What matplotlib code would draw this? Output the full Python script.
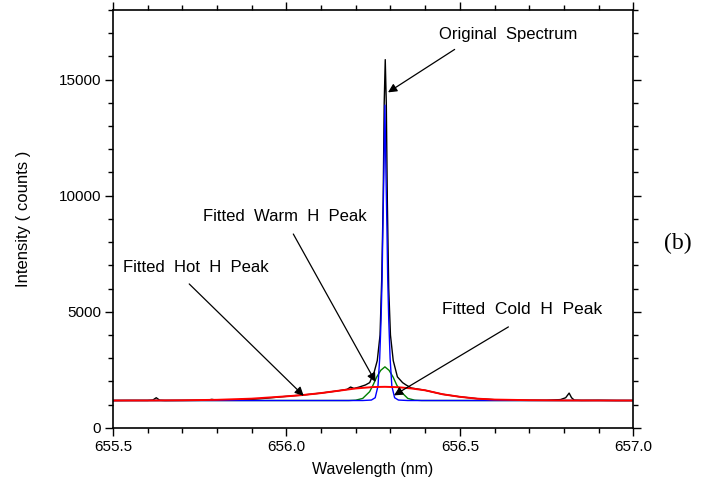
import numpy as np
import matplotlib
matplotlib.use("Agg")
import matplotlib.pyplot as plt
from matplotlib.ticker import MultipleLocator

plt.rcParams['font.family'] = ['Liberation Sans', 'DejaVu Sans']

orig_wl = [655.50, 655.55, 655.60, 655.615, 655.625, 655.635, 655.65, 655.70,
           655.77, 655.785, 655.80, 655.86, 655.875, 655.89, 655.95, 656.00,
           656.05, 656.10, 656.15, 656.175, 656.185, 656.195, 656.21, 656.228,
           656.24, 656.253, 656.262, 656.270, 656.275, 656.279, 656.282, 656.285,
           656.288, 656.291, 656.295, 656.300, 656.308, 656.32, 656.335, 656.345,
           656.36, 656.40, 656.45, 656.50, 656.55, 656.60, 656.65, 656.70,
           656.75, 656.79, 656.805, 656.815, 656.822, 656.83, 656.85, 656.90,
           656.95, 657.00]
orig_int = [1180, 1185, 1185, 1200, 1300, 1190, 1180, 1185,
            1190, 1230, 1195, 1210, 1240, 1215, 1290, 1360,
            1420, 1500, 1600, 1660, 1760, 1700, 1760, 1850,
            1950, 2400, 2900, 4000, 6500, 9800, 14000, 15860,
            14000, 9800, 6000, 4000, 2900, 2200, 1950, 1850,
            1720, 1620, 1450, 1340, 1260, 1215, 1200, 1190,
            1190, 1220, 1300, 1500, 1300, 1195, 1185, 1190,
            1180, 1180]

# fitted cold peak (blue)
cold_wl = [655.50, 656.22, 656.245, 656.256, 656.264, 656.269, 656.273, 656.276,
           656.278, 656.281, 656.284, 656.287, 656.290, 656.292, 656.295, 656.299,
           656.304, 656.312, 656.323, 656.35, 657.00]
cold_int = [1180, 1180, 1200, 1300, 1800, 3000, 4700, 6500,
            8500, 11000, 13900, 11000, 8500, 6500, 4700, 3000,
            1800, 1300, 1200, 1180, 1180]

# fitted warm peak (green)
warm_wl = [655.50, 656.18, 656.20, 656.22, 656.24, 656.25, 656.26, 656.272,
           656.284, 656.296, 656.308, 656.318, 656.33, 656.35, 656.37, 656.39,
           657.00]
warm_int = [1180, 1180, 1195, 1270, 1560, 1850, 2180, 2480,
            2630, 2480, 2180, 1850, 1560, 1270, 1195, 1180,
            1180]

# fitted hot peak (red)
hot_wl = [655.50, 655.60, 655.70, 655.80, 655.90, 656.00, 656.05, 656.10,
          656.15, 656.20, 656.25, 656.284, 656.32, 656.36, 656.40, 656.45,
          656.50, 656.55, 656.60, 656.70, 656.80, 656.90, 657.00]
hot_int = [1180, 1182, 1190, 1210, 1260, 1360, 1420, 1500,
           1600, 1700, 1760, 1770, 1755, 1700, 1620, 1450,
           1340, 1260, 1220, 1195, 1185, 1182, 1180]

fig = plt.figure(figsize=(7.10, 4.97), dpi=100)
ax = fig.add_axes([0.159, 0.139, 0.733, 0.841])

ax.plot(orig_wl, orig_int, color='black', lw=1.0)
ax.plot(warm_wl, warm_int, color='#008000', lw=1.0)
ax.plot(cold_wl, cold_int, color='#0000ff', lw=1.0)
ax.plot(hot_wl, hot_int, color='#ff0000', lw=1.4)

ax.set_xlim(655.5, 657.0)
ax.set_ylim(0, 18000)
ax.set_xticks([655.5, 656.0, 656.5, 657.0])
ax.set_xticklabels(['655.5', '656.0', '656.5', '657.0'])
ax.set_yticks([0, 5000, 10000, 15000])
ax.xaxis.set_minor_locator(MultipleLocator(0.1))
ax.yaxis.set_minor_locator(MultipleLocator(1000))
ax.tick_params(which='both', direction='out', top=True, right=True,
               labelsize=11, width=1.0, pad=2.5)
ax.tick_params(which='major', length=6)
ax.tick_params(which='minor', length=3.5)
for s in ax.spines.values():
    s.set_linewidth(1.2)

ax.set_xlabel('Wavelength (nm)', fontsize=11.5, labelpad=6)
ax.set_ylabel('Intensity ( counts )', fontsize=12, labelpad=20)

arrow = dict(arrowstyle='-|>', color='black', lw=0.9, mutation_scale=13,
             shrinkA=0, shrinkB=0)
ax.text(656.64, 16950, 'Original  Spectrum', fontsize=12, ha='center', va='center')
ax.annotate('', xy=(656.293, 14450), xytext=(656.485, 16300), arrowprops=arrow)
ax.text(655.76, 9100, 'Fitted  Warm  H  Peak', fontsize=12, ha='left', va='center')
ax.annotate('', xy=(656.257, 1980), xytext=(656.02, 8350), arrowprops=arrow)
ax.text(655.53, 6900, 'Fitted  Hot  H  Peak', fontsize=12, ha='left', va='center')
ax.annotate('', xy=(656.05, 1380), xytext=(655.72, 6200), arrowprops=arrow)
ax.text(656.68, 5100, 'Fitted  Cold  H  Peak', fontsize=12.5, ha='center', va='center')
ax.annotate('', xy=(656.31, 1400), xytext=(656.64, 4350), arrowprops=arrow)

fig.text(0.955, 0.51, '(b)', fontsize=17, family='Liberation Serif',
         ha='center', va='center')

fig.savefig('out.png', dpi=100)
